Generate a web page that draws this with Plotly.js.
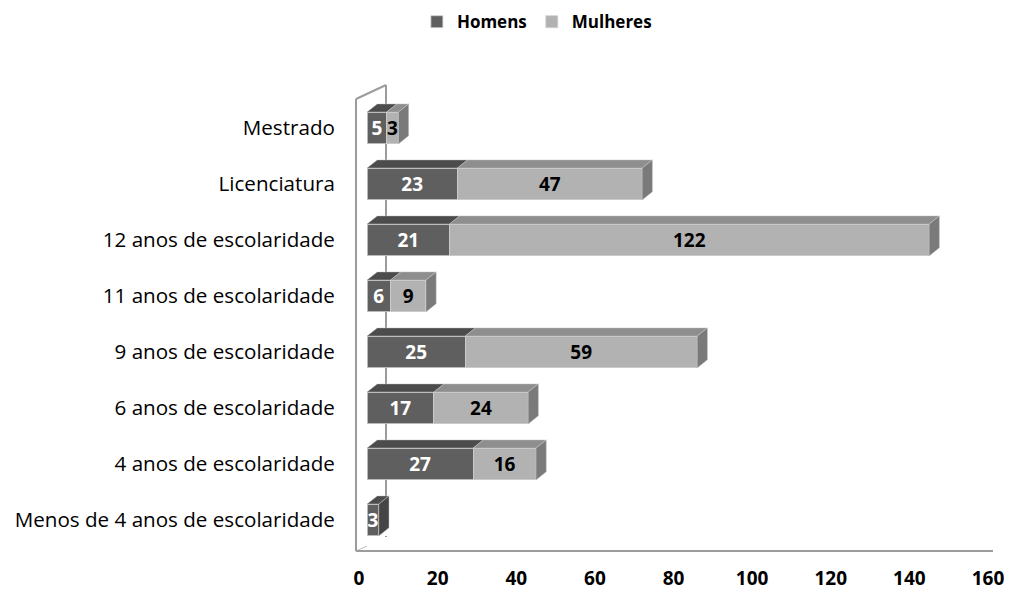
<!DOCTYPE html>
<html><head><meta charset="utf-8">
<script src="https://cdn.plot.ly/plotly-3.0.1.min.js"></script>
<style>html,body{margin:0;padding:0;background:#fff}</style>
</head><body><div id="chart" style="width:1013px;height:590px"></div>
<script>
const categories = ["Menos de 4 anos de escolaridade","4 anos de escolaridade","6 anos de escolaridade","9 anos de escolaridade","11 anos de escolaridade","12 anos de escolaridade","Licenciatura","Mestrado"];
const homens = [3, 27, 17, 25, 6, 21, 23, 5];
const mulheres = [null, 16, 24, 59, 9, 122, 47, 3];
const xTicks = [0, 20, 40, 60, 80, 100, 120, 140, 160];

const FONT = "Open Sans, Noto Sans, sans-serif";
const barW = 0.57, dx = 2.6, dy = 0.145;
const idx = categories.map((_, i) => i);

function topFaces(base, vals) {
  const xs = [], ys = [];
  vals.forEach((v, i) => {
    if (v == null) return;
    const b = base[i], e = b + v, t = i + barW / 2;
    xs.push(b, e, e + dx, b + dx, b, null);
    ys.push(t, t, t + dy, t + dy, t, null);
  });
  return {xs, ys};
}
const zeros = homens.map(() => 0);
const hTop = topFaces(zeros, homens);
const mTop = topFaces(homens, mulheres);
function sideFaces(which) {
  const xs = [], ys = [];
  idx.forEach(i => {
    const lastM = mulheres[i] != null;
    if ((which === 'm') !== lastM) return;
    const e = homens[i] + (mulheres[i] || 0);
    const t = i + barW / 2, bt = i - barW / 2;
    xs.push(e, e, e + dx, e + dx, e, null);
    ys.push(bt, t, t + dy, bt + dy, bt, null);
  });
  return {xs, ys};
}
const hSide = sideFaces('h'), mSide = sideFaces('m');

function face(f, color) {
  return {type: 'scatter', x: f.xs, y: f.ys, mode: 'lines', fill: 'toself', fillcolor: color,
    line: {color: 'rgba(200,200,200,0.6)', width: 0.8}, hoverinfo: 'skip', showlegend: false, connectgaps: false};
}

const L = 367, R = 17, T = 100, B = 42;
const pw = 1013 - L - R, ph = 590 - T - B;
const px = v => (v - L) / pw;
const py = v => (590 - B - v) / ph;
const dxv = v => (v - L) / pw * 160;          // pixel -> x data
const dyv = v => (590 - B - v) / ph * 8 - 0.5; // pixel -> y data
const backX = dxv(386);

// back wall edge, visible only in the gaps between bar rows
const wallXs = [], wallYs = [];
idx.forEach(i => {
  const y0 = i + barW / 2 + dy;
  const y1 = i < idx.length - 1 ? i + 1 - barW / 2 : idx.length - 0.5;
  wallXs.push(backX, backX, null);
  wallYs.push(y0, y1, null);
});
wallXs.push(backX, backX, null);
wallYs.push(dyv(537), -barW / 2, null);

const traces = [
  {type: 'scatter', x: wallXs, y: wallYs, mode: 'lines', line: {color: '#9c9c9c', width: 2},
   hoverinfo: 'skip', showlegend: false, connectgaps: false, cliponaxis: false},
  {type: 'bar', orientation: 'h', name: 'Homens', y: idx, x: homens, width: barW,
   marker: {color: '#5f5f5f', line: {color: '#d0d0d0', width: 0.8}},
   text: homens.map(v => v == null ? '' : String(v)), textposition: 'inside', insidetextanchor: 'middle',
   constraintext: 'none', textangle: 0,
   textfont: {family: FONT, size: 19, color: '#ffffff', weight: 'bold'}},
  {type: 'bar', orientation: 'h', name: 'Mulheres', y: idx, x: mulheres, width: barW,
   marker: {color: '#b2b2b2', line: {color: '#d0d0d0', width: 0.8}},
   text: mulheres.map(v => v == null ? '' : String(v)), textposition: 'inside', insidetextanchor: 'middle',
   constraintext: 'none', textangle: 0,
   textfont: {family: FONT, size: 19, color: '#000000', weight: 'bold'}},
  face(hTop, '#4c4c4c'),
  face(mTop, '#8e8e8e'),
  face(hSide, '#454545'),
  face(mSide, '#7a7a7a')
];

const wall = {color: '#9c9c9c', width: 2};
const shapes = [
  {type: 'line', xref: 'paper', yref: 'paper', x0: px(356), x1: px(356), y0: py(551), y1: py(99), line: wall, layer: 'between'},
  {type: 'line', xref: 'paper', yref: 'paper', x0: px(356), x1: px(386), y0: py(99), y1: py(85), line: wall, layer: 'between'},
  {type: 'line', xref: 'paper', yref: 'paper', x0: px(386), x1: px(386), y0: py(85), y1: 1, line: wall, layer: 'between'},
  {type: 'line', xref: 'paper', yref: 'paper', x0: px(356), x1: px(367), y0: py(551), y1: py(546), line: {color: '#c0c0c0', width: 1}, layer: 'between'},
  {type: 'line', xref: 'paper', yref: 'paper', x0: px(356), x1: px(993), y0: py(551), y1: py(551), line: wall, layer: 'between'}
];

const layout = {
  width: 1013, height: 590,
  margin: {l: L, r: R, t: T, b: B, pad: 0},
  paper_bgcolor: '#ffffff', plot_bgcolor: 'rgba(0,0,0,0)',
  barmode: 'stack', bargap: 0.4,
  font: {family: FONT, size: 20, color: '#000'},
  showlegend: true,
  legend: {orientation: 'h', xref: 'container', yref: 'container', x: 0.53, xanchor: 'center', y: 0.993, yanchor: 'top',
    font: {family: FONT, size: 17, color: '#000', weight: 'bold'}, traceorder: 'normal', itemwidth: 30},
  xaxis: {range: [0, 160], tickvals: xTicks, ticktext: xTicks.map(String), showgrid: false, zeroline: false,
    showline: false, ticks: 'outside', ticklen: 13, tickcolor: 'rgba(0,0,0,0)', ticklabelshift: -8,
    tickfont: {family: FONT, size: 19, color: '#000', weight: 'bold'}, fixedrange: true},
  yaxis: {range: [-0.5, 7.5], tickvals: idx, ticktext: categories, showgrid: false, zeroline: false, showline: false,
    ticks: 'outside', ticklen: 27, tickcolor: 'rgba(0,0,0,0)',
    tickfont: {family: FONT, size: 20.6, color: '#000'}, fixedrange: true},
  shapes: shapes
};
Plotly.newPlot('chart', traces, layout, {displayModeBar: false, staticPlot: true});
</script></body></html>
